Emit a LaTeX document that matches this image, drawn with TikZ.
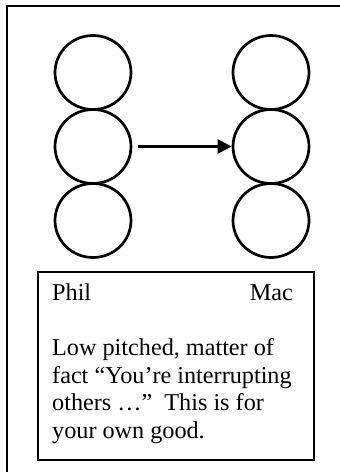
\documentclass[tikz,border=0pt]{standalone}
\usepackage{fontspec}
\setmainfont{Liberation Serif}
\usetikzlibrary{shapes.geometric,arrows.meta}
\begin{document}
\begin{tikzpicture}[x=1pt,y=1pt,
  ring/.style={ellipse,draw,line width=2.7pt,minimum width=76pt,minimum height=74pt,inner sep=0pt},
  frameline/.style={line width=2.4pt},
  label/.style={font=\fontsize{24.2}{27.5}\selectfont,inner sep=0pt}]
\useasboundingbox (0,0) rectangle (340,-472);
% outer frame (top and left edges)
\draw[frameline] (340,-6) -- (7,-6) -- (7,-472);
% Phil's column
\node[ring] (l1) at (93,-72.5) {};
\node[ring] (l2) at (93,-146.5) {};
\node[ring] (l3) at (93,-220.5) {};
% Mac's column
\node[ring] (r1) at (271,-72.5) {};
\node[ring] (r2) at (271,-146.5) {};
\node[ring] (r3) at (271,-220.5) {};
% message from Phil to Mac
\draw[line width=2.2pt,-{Triangle[length=14pt,width=14pt]},shorten <=6pt] (l2.east) -- (r2.west);
% caption box
\node[draw,line width=2.6pt,minimum width=276pt,minimum height=188pt,inner sep=0pt] (box) at (176,-366) {};
\node[label,anchor=base west] (phil) at (52,-300) {Phil};
\node[label,anchor=base east] (mac) at (293,-300) {Mac};
\node[label,anchor=base west] (t1) at (52,-355) {Low pitched, matter of};
\node[label,anchor=base west] (t2) at (52,-383) {fact “You’re interrupting};
\node[label,anchor=base west] (t3) at (52,-410.5) {others …”\ \ This is for};
\node[label,anchor=base west] (t4) at (52,-438) {your own good.};
\end{tikzpicture}
\end{document}
